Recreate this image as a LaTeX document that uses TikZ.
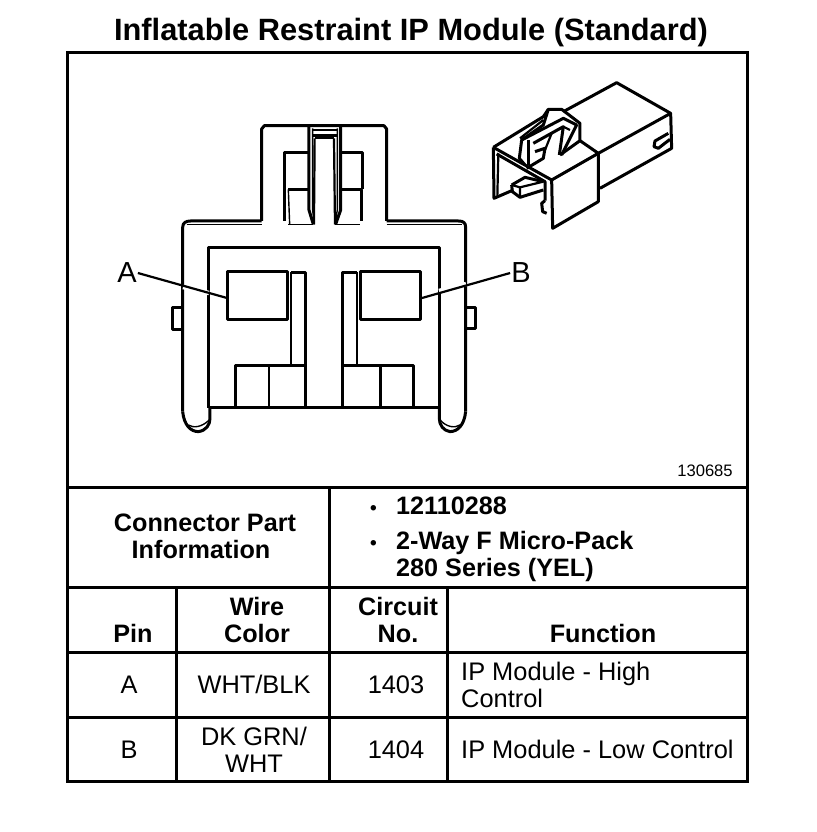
\documentclass[tikz,border=0pt]{standalone}
\usepackage{fontspec}
\setmainfont{Liberation Sans}
\tikzset{
  frame/.style={line width=3pt,black},
  heavy/.style={line width=3pt,black,line join=round},
  med/.style={line width=2.2pt,black,line join=round},
  fine/.style={line width=1.4pt,black,line join=round},
  lab/.style={font=\fontsize{25.4}{27}\selectfont,anchor=base,inner sep=0pt},
  boldlab/.style={font=\fontsize{25.2}{27}\selectfont\bfseries,inner sep=0pt},
  leftlab/.style={font=\fontsize{25.4}{27}\selectfont,anchor=base west,inner sep=0pt},
  bulletlab/.style={font=\fontsize{19}{27}\selectfont\bfseries,anchor=base west,inner sep=0pt},
}
\begin{document}
\begin{tikzpicture}[x=1pt,y=-1pt]
\useasboundingbox (0,0) rectangle (816,832);
\fill[white] (0,0) rectangle (816,832);
\node[font=\fontsize{30.8}{34}\selectfont\bfseries,inner sep=0pt] (title) at (411,33) {Inflatable Restraint IP Module (Standard)};
% table frame
\draw[frame] (67,53) rectangle (747,781);
\draw[frame] (67,487) -- (747,487);
\draw[frame] (67,587) -- (747,587);
\draw[frame] (67,652) -- (747,652);
\draw[frame] (67,717) -- (747,717);
\draw[frame] (329,487) -- (329,781);
\draw[frame] (176,587) -- (176,781);
\draw[frame] (447,587) -- (447,781);
% main connector drawn in zoom coordinates
\begin{scope}[shift={(160,110)},x=0.3333pt,y=-0.3333pt]
\draw[heavy] (305,333) -- (305,57) -- (313,47) -- (672,47) -- (680,57) -- (680,333);
\draw[heavy] (68,905) -- (68,352) .. controls (68,338) and (78,333) .. (92,333) -- (305,333)
  (680,333) -- (895,333) .. controls (910,333) and (917,338) .. (917,352) -- (917,905);
\draw[fine] (80,343) -- (305,343) (680,343) -- (905,343) (385,343) -- (460,343) (525,343) -- (600,343);
\draw[heavy] (68,905) .. controls (72,945) and (92,965) .. (115,965) .. controls (138,962) and (150,945) .. (150,925) -- (150,893);
\draw[heavy] (917,905) .. controls (913,945) and (893,965) .. (870,965) .. controls (850,962) and (838,945) .. (838,925) -- (838,893);
\draw[fine] (85,945) .. controls (100,955) and (125,952) .. (148,930);
\draw[fine] (900,945) .. controls (885,955) and (860,952) .. (840,930);
\draw[heavy] (147,893) -- (147,412) -- (838,412) -- (838,893);
\draw[line width=3.6pt] (147,893) -- (838,893);
\draw[heavy] (204,484) rectangle (384,630);
\draw[heavy] (603,484) rectangle (782,630);
\draw[med] (394,768) -- (394,487);
\draw[heavy] (394,487) -- (438,487) -- (438,768);
\draw[heavy] (549,768) -- (549,487) -- (590,487);
\draw[med] (590,487) -- (590,768);
\draw[heavy] (228,893) -- (228,768) -- (438,768) -- (438,893);
\draw[med] (326,768) -- (326,893);
\draw[heavy] (549,893) -- (549,768) -- (760,768) -- (760,893);
\draw[heavy] (663,768) -- (663,893);
\draw[heavy] (68,592) -- (38,592) -- (38,658) -- (68,658);
\draw[heavy] (917,592) -- (947,592) -- (947,655) -- (917,655);
% centre post
\draw[heavy] (447,50) -- (447,300) -- (460,343);
\draw[fine] (458,55) -- (458,300) -- (463,343);
\draw[heavy] (458,78) -- (532,78);
\draw[fine] (458,60) -- (532,60);
\draw[med] (464,85) -- (522,85);
\draw[med] (464,85) -- (462,343);
\draw[med] (522,85) -- (525,343);
\draw[heavy] (542,50) -- (542,300) -- (527,343);
\draw[fine] (532,55) -- (532,300) -- (525,343);
\draw[heavy] (445,127) -- (375,127) -- (375,333);
\draw[heavy] (447,238) -- (385,238);
\draw[fine] (385,238) -- (389,343);
\draw[heavy] (542,127) -- (608,127) -- (608,238);
\draw[heavy] (542,238) -- (604,238) -- (604,333);
\end{scope}
% pin anchor coordinates and leaders
\coordinate (pinA) at (227,298);
\coordinate (pinB) at (422,298);
\node[font=\fontsize{29}{32}\selectfont,inner sep=1pt] (A) at (127,273) {A};
\node[font=\fontsize{29}{32}\selectfont,inner sep=1pt] (B) at (521,273) {B};
\draw[white,line width=4.5pt] (183,287) -- (209,293) (466,284) -- (439,291);
\draw[med] (A.east) -- (pinA);
\draw[med] (B.west) -- (pinB);
% isometric connector drawn in zoom coordinates
\begin{scope}[shift={(480,70)},x=0.3333pt,y=-0.3333pt]
\draw[heavy] (250,125) -- (410,38) -- (572,130) -- (575,235) -- (360,355);
\draw[heavy] (572,130) -- (355,250);
\draw[heavy] (40,232) -- (215,330) -- (355,250) -- (300,212);
\draw[heavy] (215,330) -- (218,475) -- (355,395) -- (355,250);
\draw[heavy] (40,232) -- (190,140) -- (205,118) -- (245,118) -- (300,160) -- (300,212) -- (240,255);
\draw[heavy] (40,232) -- (42,385) -- (100,360);
\draw[med] (55,250) -- (52,380);
\draw[heavy] (50,252) -- (195,335) -- (195,392);
\draw[heavy] (195,392) -- (185,400) -- (188,425) -- (200,430);
\draw[heavy] (95,345) -- (135,322) -- (190,335);
\draw[heavy] (95,345) -- (97,365) -- (120,382) -- (190,360);
\draw[med] (95,345) -- (120,352) -- (120,382);
\draw[med] (120,352) -- (190,335);
\draw[heavy] (205,118) -- (190,165) -- (125,210) -- (118,265) -- (135,285);
\draw[heavy] (125,210) -- (250,145) -- (290,165) -- (245,255);
\draw[heavy] (145,210) -- (145,285);
\draw[heavy] (160,220) -- (250,170) -- (238,255);
\draw[med] (250,170) -- (270,180);
\draw[med] (215,190) -- (195,240);
\draw[heavy] (165,245) -- (195,235) -- (190,265) -- (140,295);
\draw[med] (120,205) -- (190,150);
\draw[heavy] (565,190) -- (525,213) -- (522,230) -- (535,235) -- (570,208);
\end{scope}
% text
\node[font=\fontsize{16.6}{19}\selectfont,inner sep=0pt] (code) at (705,471) {130685};
\node[boldlab,anchor=base] (cpi1) at (205,531) {Connector Part};
\node[boldlab,anchor=base] (cpi2) at (201,558) {Information};
\node[bulletlab] (b1) at (370,514) {•};
\node[boldlab,anchor=base west] (partno) at (396,514) {12110288};
\node[bulletlab] (b2) at (370,549) {•};
\node[boldlab,anchor=base west] (partname) at (396,549) {2-Way F Micro-Pack};
\node[boldlab,anchor=base west] (partname2) at (396,576) {280 Series (YEL)};
\node[boldlab,anchor=base] (hpin) at (133,642) {Pin};
\node[boldlab,anchor=base] (hwire1) at (257,615) {Wire};
\node[boldlab,anchor=base] (hwire2) at (257,642) {Color};
\node[boldlab,anchor=base] (hcirc1) at (398,615) {Circuit};
\node[boldlab,anchor=base] (hcirc2) at (398,642) {No.};
\node[boldlab,anchor=base] (hfunc) at (603,642) {Function};
\node[lab] (ra) at (129,693) {A};
\node[lab] (rawire) at (254,693) {WHT/BLK};
\node[lab] (racirc) at (396,693) {1403};
\node[leftlab] (rafunc1) at (461,680) {IP Module - High};
\node[leftlab] (rafunc2) at (461,707) {Control};
\node[lab] (rb) at (129,758) {B};
\node[lab] (rbwire1) at (254,745) {DK GRN/};
\node[lab] (rbwire2) at (254,772) {WHT};
\node[lab] (rbcirc) at (396,758) {1404};
\node[leftlab] (rbfunc) at (461,758) {IP Module - Low Control};
\end{tikzpicture}
\end{document}
